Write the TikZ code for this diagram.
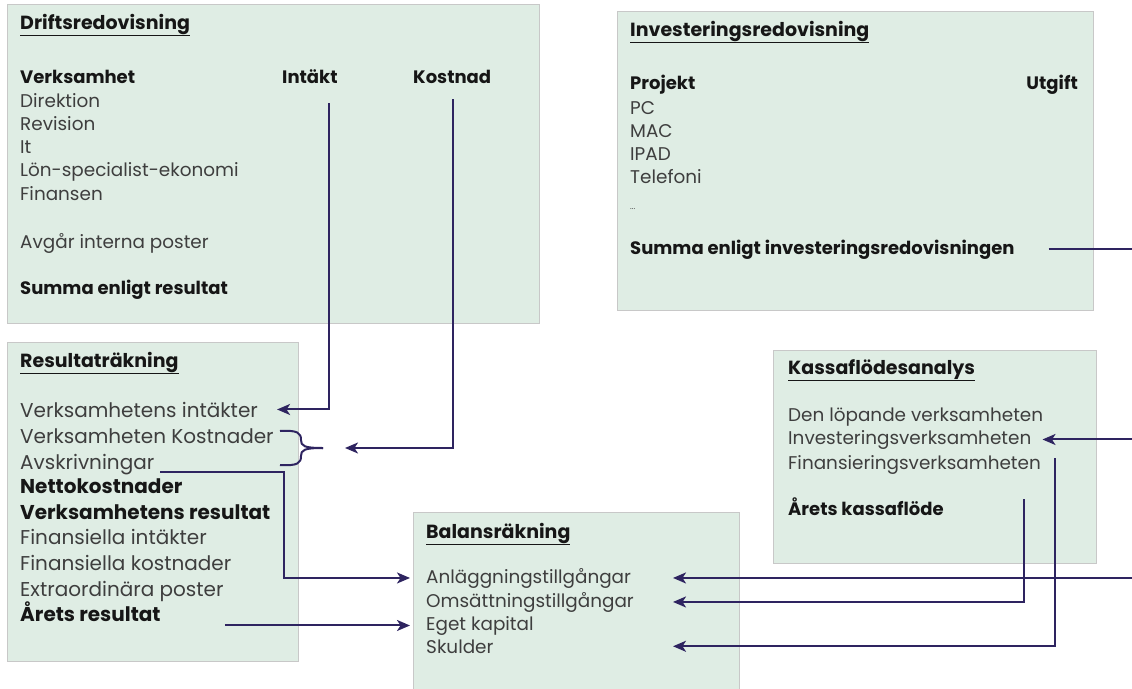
\documentclass[tikz,border=0pt]{standalone}
\usepackage{fontspec}
\setmainfont{Poppins}
\usetikzlibrary{arrows,arrows.meta}
\definecolor{panelfill}{RGB}{223,237,228}
\definecolor{panelline}{RGB}{200,200,200}
\definecolor{linkcol}{RGB}{46,36,96}
\definecolor{bodytext}{RGB}{62,62,62}
\definecolor{headtext}{RGB}{22,22,22}
\tikzset{
  panel/.style={draw=panelline, fill=panelfill, line width=1.2pt, inner sep=0, anchor=north west},
  entry/.style={anchor=base west, inner sep=0, text=bodytext, font=\fontsize{18.4}{22}\selectfont},
  bigentry/.style={entry, font=\fontsize{20}{24}\selectfont},
  strong/.style={entry, text=headtext, font=\fontsize{18}{22}\selectfont\bfseries},
  heading/.style={entry, text=headtext, font=\fontsize{19}{22}\selectfont\bfseries},
  bigstrong/.style={entry, text=headtext, font=\fontsize{20}{24}\selectfont\bfseries},
  link/.style={->, >={Stealth[length=13pt,width=11pt,inset=3.5pt]}, line width=2pt, draw=linkcol},
  bracket/.style={line width=2pt, draw=linkcol}
}

\begin{document}
\begin{tikzpicture}[x=1pt, y=-1pt]
\useasboundingbox (0,0) rectangle (1132,688);

% panels
\node[panel, minimum width=532pt, minimum height=319pt] (drift) at (7,4) {};
\node[panel, minimum width=476pt, minimum height=299pt] (inv) at (617,11) {};
\node[panel, minimum width=291pt, minimum height=319pt] (res) at (7,342) {};
\node[panel, minimum width=326pt, minimum height=190pt] (bal) at (413,512) {};
\node[panel, minimum width=323pt, minimum height=213pt] (kassa) at (773,350) {};

% Driftsredovisning
\node[heading] (drift-head) at (20,29) {\underline{Driftsredovisning}};
\node[strong] (verk) at (20,83) {Verksamhet};
\node[strong] (intakt) at (282,83) {Intäkt};
\node[strong] (kostnad) at (413,83) {Kostnad};
\node[entry] (direktion) at (20,107) {Direktion};
\node[entry] (revision) at (20,130) {Revision};
\node[entry] (it) at (20,153) {It};
\node[entry] (lon) at (20,176) {Lön-specialist-ekonomi};
\node[entry] (finansen) at (20,200) {Finansen};
\node[entry] (avgar) at (20,248) {Avgår interna poster};
\node[strong] (sumres) at (20,294) {Summa enligt resultat};

% Investeringsredovisning
\node[heading] (inv-head) at (630,36) {\underline{Investeringsredovisning}};
\node[strong] (projekt) at (630,89) {Projekt};
\node[strong, anchor=base east] (utgift) at (1078,89) {Utgift};
\node[entry] (pc) at (630,114) {PC};
\node[entry] (mac) at (630,137) {MAC};
\node[entry] (ipad) at (630,160) {IPAD};
\node[entry] (telefoni) at (630,183) {Telefoni};
\node[entry, font=\fontsize{8}{9}\selectfont] (dots) at (630,209) {...};
\node[strong] (suminv) at (630,254) {Summa enligt investeringsredovisningen};

% Resultaträkning
\node[heading] (res-head) at (20,367) {\underline{Resultaträkning}};
\node[bigentry] (vint) at (20,417) {Verksamhetens intäkter};
\node[bigentry] (vkost) at (20,443) {Verksamheten Kostnader};
\node[bigentry] (avskr) at (20,469) {Avskrivningar};
\node[bigstrong] (netto) at (20,493) {Nettokostnader};
\node[bigstrong] (vres) at (20,519) {Verksamhetens resultat};
\node[bigentry] (finint) at (20,544) {Finansiella intäkter};
\node[bigentry] (finkost) at (20,570) {Finansiella kostnader};
\node[bigentry] (extra) at (20,596) {Extraordinära poster};
\node[bigstrong] (aret) at (20,621) {Årets resultat};

% Balansräkning
\node[heading] (bal-head) at (426,538) {\underline{Balansräkning}};
\node[entry] (anl) at (426,583) {Anläggningstillgångar};
\node[entry] (oms) at (426,607) {Omsättningstillgångar};
\node[entry] (eget) at (426,630) {Eget kapital};
\node[entry] (skulder) at (426,653) {Skulder};

% Kassaflödesanalys
\node[heading] (kassa-head) at (788,374) {\underline{Kassaflödesanalys}};
\node[entry] (lop) at (788,421) {Den löpande verksamheten};
\node[entry] (invv) at (788,444) {Investeringsverksamheten};
\node[entry] (finv) at (788,469) {Finansieringsverksamheten};
\node[strong] (arkf) at (788,515) {Årets kassaflöde};

% fixed points
\coordinate (rim) at (1134,0);
\coordinate (balin) at (673,0);
\coordinate (brace-tip) at (323,448);

% bracket round the cost rows
\draw[bracket] (280,431) .. controls (298,430) and (301,433) .. (301,440)
  .. controls (301,446) and (304,448) .. (brace-tip);
\draw[bracket] (280,465) .. controls (298,466) and (301,463) .. (301,456)
  .. controls (301,450) and (304,448) .. (brace-tip);

% connectors
\draw[link] ([xshift=19pt,yshift=-20pt]intakt.south) |- ([xshift=19pt]vint.east);
\draw[link] ([xshift=1pt,yshift=-16pt]kostnad.south) |- ([xshift=22pt]brace-tip);
\draw[link] ([xshift=6pt,yshift=-3pt]avskr.base east) -- ++(124,0) |- ([xshift=-16pt]anl.west);
\draw[link] ([xshift=64pt]aret.east |- eget.west) -- ([xshift=-16pt]eget.west);
\draw[line width=2pt, draw=linkcol] ([xshift=34pt]suminv.east) -- (suminv.east -| rim);
\draw[link] (invv.east -| rim) -- ([xshift=11pt]invv.east);
\draw[link] ([xshift=14pt,yshift=6pt]finv.east) |- (skulder -| balin);
\draw[link] ([xshift=80pt,yshift=7pt]arkf.east) |- (oms -| balin);
\draw[link] (anl -| rim) -- (anl -| balin);
\end{tikzpicture}
\end{document}
